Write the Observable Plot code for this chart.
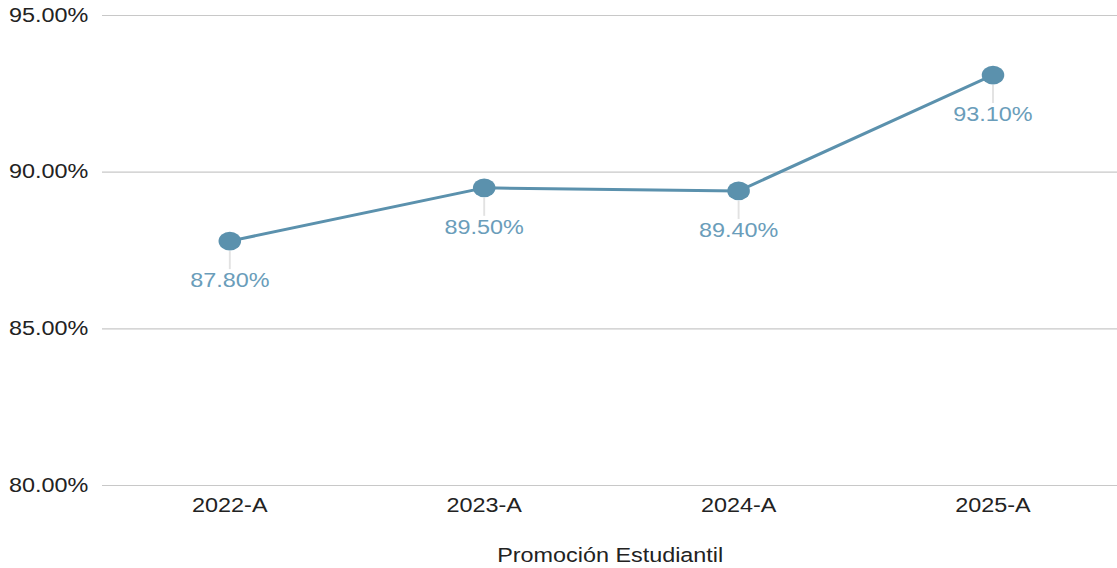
<!DOCTYPE html>
<html>
<head>
<meta charset="utf-8">
<script src="https://cdn.jsdelivr.net/npm/d3@7"></script>
<script src="https://cdn.jsdelivr.net/npm/@observablehq/plot@0.6"></script>
<style>
  html, body { margin: 0; padding: 0; background: #fff; overflow: hidden; }
  #wrap { width: 931px; transform: scaleX(1.2); transform-origin: 0 0; }
</style>
</head>
<body>
<div id="wrap"></div>
<script>
const categories = ["2022-A", "2023-A", "2024-A", "2025-A"];
const values = [87.8, 89.5, 89.4, 93.1];
const yTicks = [80, 85, 90, 95];

const data = categories.map((c, i) => ({promo: c, value: values[i]}));

const lineColor = "#5b91ad";
const labelColor = "#6a9dba";

const leader = {
  draw(ctx) { ctx.moveTo(0, 10); ctx.lineTo(0, 28); }
};

const chart = Plot.plot({
  width: 931,
  height: 568,
  marginLeft: 85,
  marginRight: 0,
  marginTop: 15,
  marginBottom: 83,
  style: {fontFamily: "Liberation Sans, Arial, sans-serif", fontSize: "19.5px", color: "#222", background: "#fff"},
  x: {type: "point", domain: categories, padding: 0, insetLeft: 105, insetRight: 103.5, label: null},
  y: {domain: [80, 95], ticks: yTicks, label: null},
  marks: [
    Plot.gridY(yTicks, {stroke: "#c8c8c8", strokeOpacity: 1, strokeWidth: 1.2}),
    Plot.axisY(yTicks, {tickSize: 0, tickPadding: 12, tickFormat: d => d.toFixed(2) + "%", fontSize: 19.5, fill: "#222", label: null}),
    Plot.axisX({tickSize: 0, tickPadding: 13, fontSize: 19.5, fill: "#222", label: "Promoción Estudiantil", labelAnchor: "center", labelArrow: "none", labelOffset: 76}),
    Plot.dot(data, {x: "promo", y: "value", symbol: leader, stroke: "#e2e2e2", strokeWidth: 1.6, fill: "none"}),
    Plot.line(data, {x: "promo", y: "value", stroke: lineColor, strokeWidth: 3}),
    Plot.dot(data, {x: "promo", y: "value", r: 9.4, fill: lineColor, stroke: "none"}),
    Plot.text(data, {x: "promo", y: "value", text: d => d.value.toFixed(2) + "%", dy: 40, fill: labelColor, fontSize: 19.5})
  ]
});
document.getElementById("wrap").appendChild(chart);
</script>
</body>
</html>
